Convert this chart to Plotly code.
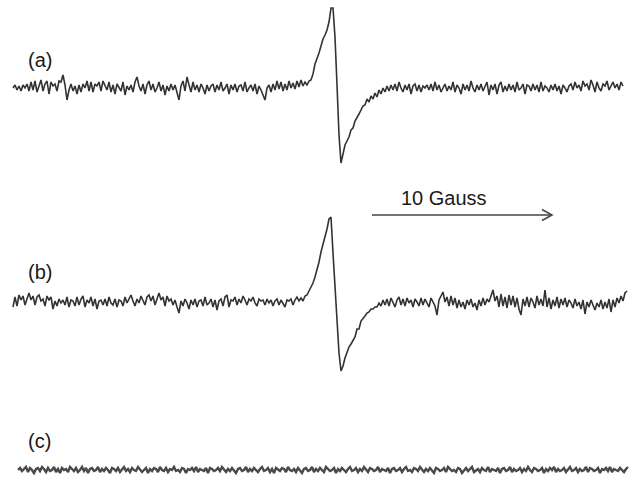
import numpy as np
import plotly.graph_objects as go

# EPR spectra, intensity in arbitrary units (baseline = 0), sampled every 1/9 Gauss
spec_a = [
    0, 3, -2, 2, -3, 3, 0, 4, -3, 6,
    -2, 7, -4, 3, 8, -3, 4, 7, -6, 6,
    2, 4, -3, 7, 6, 13, 3, -12, -2, 4,
    -3, 2, -6, 3, -4, 4, 0, 7, -3, 6,
    -4, 4, 2, 6, -3, 7, 3, -2, 6, -4,
    3, -6, 4, 0, -3, 6, -7, 2, -2, 3,
    -4, 6, 11, 2, -3, 4, -6, 3, 7, -2,
    4, -4, 0, 6, -3, 3, -7, 2, -3, 4,
    -2, 3, -6, -12, 2, 7, -3, 11, 3, -4,
    6, -2, 3, -4, 4, 0, -6, 3, -3, 2,
    4, -4, 3, -2, 6, -3, 0, 4, -6, 3,
    -2, 4, -4, 2, 3, -3, 6, -4, 0, 3,
    -3, 4, -6, 2, -2, -8, -12, 0, 3, -4,
    4, -2, 7, -1, 6, -3, 4, -2, 7, 0,
    5, -1, 7, 1, 8, 2, 6, 3, 7,
    8, 14, 24, 29, 35, 42, 49, 53, 58, 66,
    80, 80, 51, 3, -47, -75, -66, -57, -53, -49,
    -42, -40, -33, -30, -26, -22, -18, -17, -11, -14,
    -8, -11, -5, -9, -2, -6, 0, -4, 2, -3, 3,
    -2, 4, -3, 6, 0, -4, 3, -2, 4, -6,
    2, 4, -3, 3, -4, 2, 0, 3, -2, 4,
    -3, 6, -2, 3, -4, 0, 4, -3, 2, -2,
    6, -4, 3, 0, -6, 4, -2, 3, -3, 7,
    0, -4, 3, -2, 4, -3, 2, 6, -7, 3,
    -2, 4, -6, 3, 6, -4, 2, -3, 4, -2,
    3, -4, 6, -2, 0, 4, -6, 3, 2, -3,
    4, -2, 3, -4, 6, -3, 2, 0, -4, 3,
    -2, 4, -3, 2, -6, 3, 0, -4, 2, 4,
    -2, 6, 0, 3, -3, 7, 2, 4, -2, 8,
    3, -4, 6, 0, -3, 4, 2, 7, -2, 3,
    6, 0, 4, -2, 6, 2,
]

spec_b = [
    -4, 6, -3, 8, 3, 7, -2, 4, 10, 3,
    7, -2, 6, 8, 2, 4, -3, 7, 3, 6,
    -6, 2, -3, 4, 0, 3, -2, 6, -4, 3,
    2, -3, 6, -2, 4, 7, -4, 3, 0, 6,
    -3, 4, -6, 2, 3, -2, 4, -3, 6, 0,
    -2, 4, -4, 3, 2, -3, 6, 0, 4, 8,
    2, -3, 4, 0, 7, 3, -2, 6, 8, 2,
    7, -2, 4, 10, 3, 6, -3, 7, 2, 4,
    -2, 3, -4, -10, 2, -3, 4, 0, -6, 3,
    -2, 4, -4, 2, 3, -3, 6, -2, 0, 4,
    -4, 3, -7, 2, 4, -3, 6, 8, -4, 3,
    2, 6, -2, 4, 0, 7, 3, -2, 4, 2,
    6, 0, -3, 4, 2, 3, -2, 4, 0, 3,
    -3, 2, 4, -2, 3, 0, -4, 3, 2, 4,
    -2, 3, 6, 2, 5,
    2, 7, 8, 12, 16, 20, 26, 33, 41, 51,
    58, 66, 74, 84, 86, 50, 16, -17, -50, -68,
    -63, -55, -49, -44, -41, -38, -34, -26, -26, -18,
    -16, -13, -10, -9, -6, -6, -4, -4, 0, -3, 3,
    -2, 4, -3, 5, 1, -4, 3, 6, -2, 4,
    -3, 5, 0, 3, -4, 4, 1, -3, 5, -2,
    4, 0, -4, 5, 1, -3, -12, 3, 7, 11,
    1, 6, -3, 7, -2, 5, -5, 3, -4, 1,
    -6, 3, -2, 4, -4, 0, -7, 3, -3, 5,
    -2, 4, 1, 6, 13, 2, 7, -4, 9, -3,
    6, -5, 8, -2, 7, -4, 5, -6, -12, 4,
    -3, 6, -4, 5, 1, -5, 7, -2, 4, -3,
    13, -4, 5, -6, 3, -3, 6, -5, 4, -2,
    5, -4, 3, 0, -5, 4, -3, 1, -6, 3,
    -11, 1, -4, 3, -2, -7, 0, -4, 3, -6,
    1, -5, 4, -9, 3, -4, 5, 0, 7, 2, 10, 12,
]

spec_c = [
    0, 2, -1, 1, 3, -2, 2, 0, -3, 1,
    2, -1, 3, 1, -2, 2, -1, 0, 3, -2,
    1, -3, 2, 0, 1, -2, 3, 1, -1, 2,
    -2, 0, 3, -1, 2, -3, 1, 2, -1, 0,
    3, -2, 1, -1, 2, 0, -3, 2, 1, -1,
    2, -2, 0, 3, -1, 1, -2, 2, 0, -1,
    3, 1, -2, 0, 2, -3, 1, -1, 2, 1,
    -2, 3, 0, -1, 2, -2, 1, 0, 3, -1,
    0, -2, 2, 1, -3, 1, 0, 2, -1, 3,
    -2, 1, 0, -1, 2, -3, 2, 1, -1, 0,
    2, -1, 3, 0, -2, 1, -1, 2, 0, -3,
    1, 2, -1, 0, 3, -2, 1, -1, 2, 0,
    -2, 1, 3, -1, 0, 2, -2, 1, -3, 2,
    0, -1, 2, 1, -2, 3, 0, -1, 1, -2,
    2, 0, -3, 1, 2, -1, 0, 3, -2, 1,
    -1, 2, 0, -2, 3, 1, -1, 0, 2, -3,
    1, -1, 2, 0, -2, 1, 3, -1, 0, 2,
    -2, 1, -1, 3, 0, -2, 2, 1, -1, 0,
    3, -2, 1, 0, -1, 2, -3, 1, 2, -1,
    0, 2, -2, 1, 3, -1, 0, -2, 2, 1,
    -1, 3, 0, -2, 1, -1, 2, 0, -3, 2,
    1, -1, 0, 2, -2, 3, 1, -1, 0, -2,
    2, 1, -3, 0, 2, -1, 1, 3, -2, 0,
    1, -2, 2, 0, -1, 3, -2, 1, 0, -1,
    2, -3, 1, 2, -1, 0, 3, -2, 1, -1,
    0, 2, -2, 1, -1, 3, 0, -2, 2, 1,
    -1, 0, 2, -3, 1, -1, 2, 0, 3, -2,
    1, -1, 0, 2, -2, 1, 3, -1, 0, 2,
    -2, 1, -1, 0, 3, -2, 2, 1, -1, 0,
    2, -3, 1, 0, 2, -1, 3, -2, 1, 0,
    -1, 2, 0, -2, 1, 3,
]

labels = ["(a)", "(b)", "(c)"]
scale_text = "10 Gauss"
scale_gauss = 10.0

step = 1.0 / 9.0          # Gauss per sample
start_a, start_b, start_c = 0.0, 0.0, 5.0 / 18.0

field_a = start_a + np.arange(len(spec_a)) * step
field_b = start_b + np.arange(len(spec_b)) * step
field_c = start_c + np.arange(len(spec_c)) * step

W, H = 637, 486
px_per_g = 18.0
x0_px = 13.0


def py(p):  # pixel row -> paper y
    return 1 - p / H


fig = go.Figure()
fig.add_trace(go.Scatter(x=field_a, y=spec_a, mode="lines", xaxis="x", yaxis="y",
                         line=dict(color="#333333", width=1.6), hoverinfo="skip"))
fig.add_trace(go.Scatter(x=field_b, y=spec_b, mode="lines", xaxis="x", yaxis="y2",
                         line=dict(color="#333333", width=1.6), hoverinfo="skip"))
fig.add_trace(go.Scatter(x=field_c, y=spec_c, mode="lines", xaxis="x", yaxis="y3",
                         line=dict(color="#4a4a4a", width=2.4), hoverinfo="skip"))

hidden = dict(visible=False, showgrid=False, zeroline=False, fixedrange=True)
xr = [-x0_px / px_per_g, (W - x0_px) / px_per_g]

font = dict(family="Liberation Sans, Arial, sans-serif", size=20, color="#1a1a1a")
annotations = []
for lab, yc in zip(labels, [60, 272, 441]):
    annotations.append(dict(text=lab, xref="paper", yref="paper", x=26 / W, y=py(yc),
                            xanchor="left", yanchor="middle", showarrow=False, font=font))

arrow_start = (372 - x0_px) / px_per_g
arrow_end = arrow_start + scale_gauss
annotations.append(dict(text=scale_text, xref="x", yref="paper",
                        x=(444 - x0_px) / px_per_g, y=py(198),
                        xanchor="center", yanchor="middle", showarrow=False, font=font))

ya = py(215)
head_len = 10 / px_per_g
shapes = [
    dict(type="line", xref="x", yref="paper", x0=arrow_start, x1=arrow_end, y0=ya, y1=ya,
         line=dict(color="#444444", width=1.5)),
    dict(type="path", xref="x", yref="paper",
         path=f"M {arrow_end - head_len},{py(209.5)} L {arrow_end},{ya} L {arrow_end - head_len},{py(220.5)}",
         line=dict(color="#444444", width=1.5)),
]

fig.update_layout(
    width=W, height=H, autosize=False,
    margin=dict(l=0, r=0, t=0, b=0, pad=0),
    paper_bgcolor="white", plot_bgcolor="white",
    showlegend=False,
    xaxis=dict(range=xr, **hidden),
    yaxis=dict(domain=[py(180), 1], range=[88 - 180, 88], **hidden),
    yaxis2=dict(domain=[py(390), py(190)], range=[303 - 390, 303 - 190], **hidden),
    yaxis3=dict(domain=[0, py(440)], range=[470 - 486, 470 - 440], **hidden),
    annotations=annotations,
    shapes=shapes,
)

fig.write_html("out.html", config=dict(displayModeBar=False, staticPlot=True),
               post_script="document.body.style.margin='0';document.body.style.overflow='hidden';")
